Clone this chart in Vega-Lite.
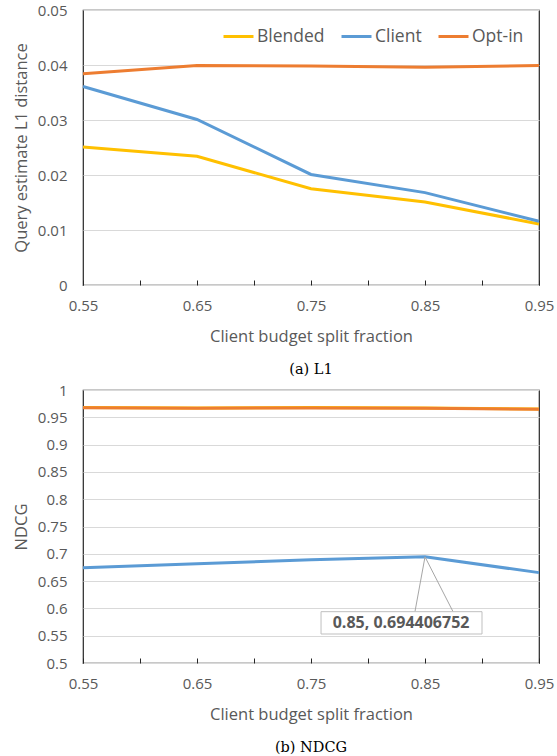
{
  "$schema": "https://vega.github.io/schema/vega-lite/v6.json",
  "background": "white",
  "padding": {"left": 12, "top": 2, "right": 5, "bottom": 4},
  "spacing": 5,
  "config": {
    "font": "Open Sans",
    "view": {"stroke": "#262626", "strokeWidth": 1.2},
    "axis": {
      "labelFont": "Open Sans", "labelFontSize": 15, "labelColor": "#595959",
      "titleFont": "Open Sans", "titleFontSize": 16.5, "titleColor": "#595959", "titleFontWeight": "normal",
      "gridColor": "#d9d9d9", "domain": false, "labelOverlap": false
    },
    "legend": {"labelFont": "Open Sans", "labelFontSize": 17.5, "labelColor": "#595959"},
    "title": {"font": "DejaVu Serif", "fontSize": 14.5, "fontWeight": "normal", "color": "#000000", "orient": "bottom", "anchor": "middle"}
  },
  "datasets": {
    "l1": [
      {"fraction": 0.55, "series": "Blended", "value": 0.0251},
      {"fraction": 0.65, "series": "Blended", "value": 0.0234},
      {"fraction": 0.75, "series": "Blended", "value": 0.0175},
      {"fraction": 0.85, "series": "Blended", "value": 0.0151},
      {"fraction": 0.95, "series": "Blended", "value": 0.0111},
      {"fraction": 0.55, "series": "Client", "value": 0.0361},
      {"fraction": 0.65, "series": "Client", "value": 0.0301},
      {"fraction": 0.75, "series": "Client", "value": 0.0201},
      {"fraction": 0.85, "series": "Client", "value": 0.0168},
      {"fraction": 0.95, "series": "Client", "value": 0.0116},
      {"fraction": 0.55, "series": "Opt-in", "value": 0.0384},
      {"fraction": 0.65, "series": "Opt-in", "value": 0.0399},
      {"fraction": 0.75, "series": "Opt-in", "value": 0.0398},
      {"fraction": 0.85, "series": "Opt-in", "value": 0.0396},
      {"fraction": 0.95, "series": "Opt-in", "value": 0.0399}
    ],
    "ndcg": [
      {"fraction": 0.55, "series": "Blended", "value": 0.968},
      {"fraction": 0.65, "series": "Blended", "value": 0.967},
      {"fraction": 0.75, "series": "Blended", "value": 0.968},
      {"fraction": 0.85, "series": "Blended", "value": 0.967},
      {"fraction": 0.95, "series": "Blended", "value": 0.965},
      {"fraction": 0.55, "series": "Client", "value": 0.6746},
      {"fraction": 0.65, "series": "Client", "value": 0.682},
      {"fraction": 0.75, "series": "Client", "value": 0.689},
      {"fraction": 0.85, "series": "Client", "value": 0.694406752},
      {"fraction": 0.95, "series": "Client", "value": 0.6655},
      {"fraction": 0.55, "series": "Opt-in", "value": 0.9676},
      {"fraction": 0.65, "series": "Opt-in", "value": 0.9665},
      {"fraction": 0.75, "series": "Opt-in", "value": 0.9672},
      {"fraction": 0.85, "series": "Opt-in", "value": 0.9666},
      {"fraction": 0.95, "series": "Opt-in", "value": 0.9646}
    ],
    "leader": [
      {"fraction": 0.85, "value": 0.694406752, "fraction2": 0.8412, "value2": 0.594},
      {"fraction": 0.85, "value": 0.694406752, "fraction2": 0.8746, "value2": 0.594}
    ],
    "box": [
      {"fraction": 0.7588, "fraction2": 0.9, "value": 0.5531, "value2": 0.594}
    ],
    "boxlabel": [
      {"fraction": 0.829, "value": 0.5735, "label": "0.85, 0.694406752"}
    ]
  },
  "vconcat": [
    {
      "width": 456, "height": 275,
      "title": {"text": "(a)  L1", "offset": 18},
      "data": {"name": "l1"},
      "mark": {"type": "line", "strokeWidth": 3},
      "encoding": {
        "x": {"field": "fraction", "type": "quantitative",
          "scale": {"domain": [0.55, 0.95], "nice": false, "zero": false},
          "axis": {"title": "Client budget split fraction", "values": [0.55, 0.6, 0.65, 0.7, 0.75, 0.8, 0.85, 0.9, 0.95],
            "labelExpr": "indexof(['0.55','0.65','0.75','0.85','0.95'], format(datum.value, '.2f')) >= 0 ? format(datum.value, '.2f') : ''",
            "grid": false, "ticks": true, "tickSize": -5, "tickColor": "#262626", "labelPadding": 18, "titlePadding": 15, "labelFlush": false}},
        "y": {"field": "value", "type": "quantitative",
          "scale": {"domain": [0, 0.05], "nice": false},
          "axis": {"title": "Query estimate L1 distance", "values": [0, 0.01, 0.02, 0.03, 0.04, 0.05],
            "format": "~r", "ticks": false, "labelPadding": 16, "titlePadding": 8, "minExtent": 46, "maxExtent": 46}},
        "color": {"field": "series", "type": "nominal",
          "scale": {"domain": ["Blended", "Client", "Opt-in"], "range": ["#FFC000", "#5B9BD5", "#ED7D31"]},
          "legend": {"title": null, "orient": "none", "legendX": 139, "legendY": 10, "direction": "horizontal",
            "symbolType": "stroke", "symbolSize": 900, "symbolStrokeWidth": 3, "labelOffset": 2, "columnPadding": 10}}
      }
    },
    {
      "width": 456, "height": 273,
      "title": {"text": "(b)  NDCG", "offset": 18},
      "encoding": {
        "x": {"field": "fraction", "type": "quantitative",
          "scale": {"domain": [0.55, 0.95], "nice": false, "zero": false},
          "axis": {"title": "Client budget split fraction", "values": [0.55, 0.6, 0.65, 0.7, 0.75, 0.8, 0.85, 0.9, 0.95],
            "labelExpr": "indexof(['0.55','0.65','0.75','0.85','0.95'], format(datum.value, '.2f')) >= 0 ? format(datum.value, '.2f') : ''",
            "grid": false, "ticks": true, "tickSize": -5, "tickColor": "#262626", "labelPadding": 18, "titlePadding": 15, "labelFlush": false}},
        "y": {"field": "value", "type": "quantitative",
          "scale": {"domain": [0.5, 1], "nice": false, "zero": false},
          "axis": {"title": "NDCG", "values": [0.5, 0.55, 0.6, 0.65, 0.7, 0.75, 0.8, 0.85, 0.9, 0.95, 1],
            "format": "~r", "ticks": false, "labelOverlap": false, "labelPadding": 16, "titlePadding": 8, "minExtent": 46, "maxExtent": 46}}
      },
      "layer": [
        {
          "data": {"name": "ndcg"},
          "mark": {"type": "line", "strokeWidth": 3},
          "encoding": {
            "color": {"field": "series", "type": "nominal",
              "scale": {"domain": ["Blended", "Client", "Opt-in"], "range": ["#FFC000", "#5B9BD5", "#ED7D31"]},
              "legend": {"title": null, "orient": "none", "legendX": 146, "legendY": 52, "direction": "horizontal",
                "symbolType": "stroke", "symbolSize": 900, "symbolStrokeWidth": 3, "labelOffset": 2, "columnPadding": 10}}
          }
        },
        {
          "data": {"name": "leader"},
          "mark": {"type": "rule", "color": "#a6a6a6", "strokeWidth": 1},
          "encoding": {
            "x2": {"field": "fraction2"},
            "y2": {"field": "value2"}
          }
        },
        {
          "data": {"name": "box"},
          "mark": {"type": "rect", "fill": "white", "stroke": "#bfbfbf", "strokeWidth": 1},
          "encoding": {
            "x2": {"field": "fraction2"},
            "y2": {"field": "value2"}
          }
        },
        {
          "data": {"name": "boxlabel"},
          "mark": {"type": "text", "font": "Open Sans", "fontSize": 16, "fontWeight": "bold", "color": "#595959", "align": "center", "baseline": "middle"},
          "encoding": {
            "text": {"field": "label"}
          }
        }
      ]
    }
  ]
}
